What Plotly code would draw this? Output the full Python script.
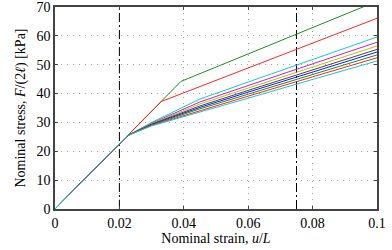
import plotly.graph_objects as go

# Strain values (u/L) and nominal stress values (kPa)
strain_green_top = [0, 0.0391, 0.1]
stress_green_top = [0, 44.2, 72.0]
strain_red_top = [0, 0.0331, 0.1]
stress_red_top = [0, 37.3, 66.1]

strain_bundle = [0, 0.0225, 0.03, 0.045, 0.06, 0.08, 0.1]
stress_cyan_1 = [0, 25.4, 30.0, 38.1, 44.0, 51.8, 59.6]
stress_magenta = [0, 25.4, 29.7, 37.1, 42.8, 50.3, 57.8]
stress_yellow = [0, 25.4, 29.55, 36.4, 41.9, 49.2, 56.5]
stress_gray = [0, 25.4, 29.4, 35.7, 41.1, 48.2, 55.3]
stress_blue = [0, 25.4, 29.25, 35.2, 40.5, 47.5, 54.4]
stress_green_2 = [0, 25.4, 29.1, 34.7, 39.8, 46.6, 53.4]
stress_red_2 = [0, 25.4, 28.95, 34.1, 39.1, 45.8, 52.4]
stress_cyan_2 = [0, 25.4, 28.8, 33.5, 38.4, 44.9, 51.3]

ref_strains = [0.02, 0.075]

x_tickvals = [0, 0.02, 0.04, 0.06, 0.08, 0.1]
x_ticktext = ["0", "0.02", "0.04", "0.06", "0.08", "0.1"]
y_tickvals = [0, 10, 20, 30, 40, 50, 60, 70]
y_ticktext = ["0", "10", "20", "30", "40", "50", "60", "70"]

GREEN = "rgb(30,140,30)"
RED = "rgb(255,35,35)"
CYAN = "rgb(25,200,200)"
MAGENTA = "rgb(200,30,200)"
YELLOW = "rgb(190,190,20)"
GRAY = "rgb(70,70,70)"
BLUE = "rgb(20,20,255)"

series = [
    (strain_green_top, stress_green_top, GREEN),
    (strain_red_top, stress_red_top, RED),
    (strain_bundle, stress_cyan_1, CYAN),
    (strain_bundle, stress_magenta, MAGENTA),
    (strain_bundle, stress_yellow, YELLOW),
    (strain_bundle, stress_gray, GRAY),
    (strain_bundle, stress_blue, BLUE),
    (strain_bundle, stress_green_2, GREEN),
    (strain_bundle, stress_red_2, RED),
    (strain_bundle, stress_cyan_2, CYAN),
]

fig = go.Figure()

for xs in ref_strains:
    fig.add_trace(go.Scatter(
        x=[xs, xs], y=[0, 70], mode="lines",
        line=dict(color="black", width=1, dash="9px,3px,2px,3px"),
        showlegend=False, hoverinfo="skip"))

for xs, ys, col in series:
    fig.add_trace(go.Scatter(
        x=xs, y=ys, mode="lines",
        line=dict(color=col, width=1),
        showlegend=False))

font = dict(family="Liberation Serif, DejaVu Serif, Times New Roman, serif", size=14, color="black")

axis_common = dict(
    showline=True, mirror="allticks", linecolor="#444", linewidth=1.5,
    ticks="inside", ticklen=3, tickcolor="#444", tickwidth=1,
    showgrid=True, gridcolor="#a8a8a8", griddash="1px,5px", gridwidth=1,
    zeroline=False, tickfont=font, automargin=False,
)

fig.update_layout(
    width=392, height=250,
    margin=dict(l=55, r=15, t=7, b=41),
    plot_bgcolor="white", paper_bgcolor="white",
    font=font,
    xaxis=dict(range=[0, 0.1], tickvals=x_tickvals, ticktext=x_ticktext,
               title=dict(text="Nominal strain, <i>u</i>/<i>L</i>", font=font, standoff=4),
               **axis_common),
    yaxis=dict(range=[0, 70.0001], tickvals=y_tickvals, ticktext=y_ticktext,
               ticklabeloverflow="allow",
               title=dict(text="Nominal stress, <i>F</i>/(2<i>ℓ</i>) [kPa]", font=font, standoff=8),
               **axis_common),
)

fig.write_html("out.html", config={"displayModeBar": False},
               post_script="document.body.style.margin='0px';")
